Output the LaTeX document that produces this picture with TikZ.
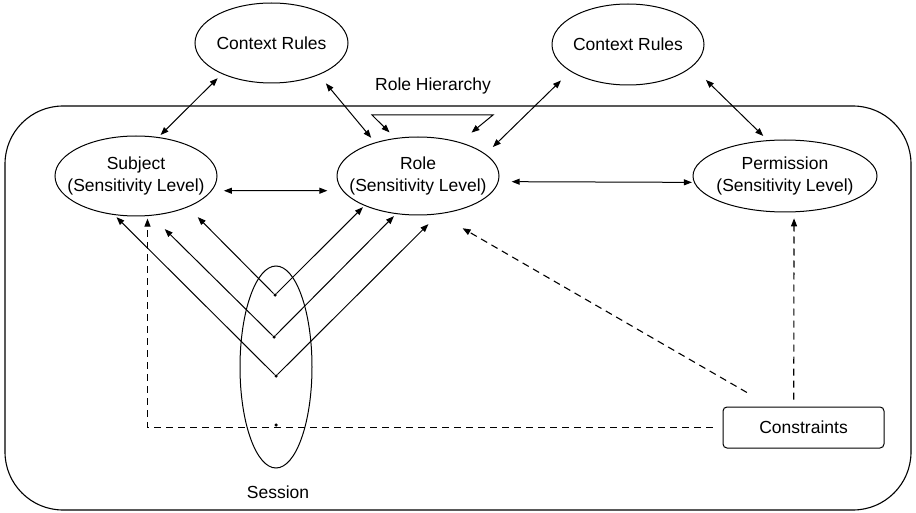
\documentclass[tikz,border=0pt]{standalone}
\usepackage{fontspec}
\setmainfont{Liberation Sans}
\usetikzlibrary{positioning,arrows.meta,shapes.geometric}

\begin{document}
\begin{tikzpicture}[
x=1pt, y=-1pt,
font=\fontsize{17.5}{22}\selectfont,
ell/.style={draw, ellipse, line width=1pt, align=center, inner xsep=-40pt, inner ysep=-12pt},
box/.style={draw, rounded corners=4pt, line width=1pt, minimum width=161pt, minimum height=41pt},
dot/.style={circle, fill, inner sep=0pt, minimum size=3.5pt},
arrow/.style={-{Triangle[length=8pt,width=6pt]}, line width=1pt},
biarrow/.style={{Triangle[length=8pt,width=6pt]}-{Triangle[length=8pt,width=6pt]}, line width=1pt},
dasharrow/.style={arrow, line width=1.1pt, dash pattern=on 7pt off 5pt}
]
\useasboundingbox (0,0) rectangle (916,513);
\node[draw, rounded corners=58pt, line width=1.1pt, minimum width=906pt, minimum height=404pt] (sys) at (458,308) {};
\node[ell, minimum width=153pt, minimum height=80pt] (crl) at (271.5,43) {Context Rules};
\node[ell, minimum width=152pt, minimum height=81pt] (crr) at (628,44.5) {Context Rules};
\node[ell, minimum width=162pt, minimum height=80pt] (subj) at (136,176) {Subject\\(Sensitivity Level)};
\node[ell, minimum width=162pt, minimum height=78pt] (role) at (418,176) {Role\\(Sensitivity Level)};
\node[ell, minimum width=184pt, minimum height=72pt] (perm) at (785,176) {Permission\\(Sensitivity Level)};
\node[ell, minimum width=72pt, minimum height=202pt] (sess) at (276,367) {};
\node[box] (cons) at (803.5,427.5) {Constraints};
\node (rh) at (433,86) {Role Hierarchy};
\node (sesslbl) at (278,492) {Session};
\node[dot] (d1) at (275,295) {};
\node[dot] (d2) at (274,337) {};
\node[dot] (d3) at (276,376) {};
\node[dot] (d4) at (276,425) {};
\coordinate (rhl) at (372,115);
\coordinate (rhr) at (493,115);
\draw[biarrow, shorten <=6pt, shorten >=3pt] (crl.-148) -- (subj.60);
\draw[biarrow, shorten <=11pt, shorten >=6pt] (crl.-34) -- (role.142);
\draw[biarrow, shorten <=13pt, shorten >=10pt] (crr.-155) -- (role.18);
\draw[biarrow, shorten <=19pt, shorten >=6pt] (crr.-19) -- (perm.116);
\draw[biarrow, shorten <=12pt, shorten >=15pt] (subj.-11) -- (role.-169);
\draw[biarrow, shorten <=13pt, shorten >=2pt] (role.-4) -- (perm.184);
\draw[biarrow, shorten <=8pt, shorten >=15pt] (role.121) -- (rhl) -- (rhr) -- (role.39);
\draw[arrow, shorten >=14pt] (d1) -- (subj.-31);
\draw[arrow, shorten >=19pt] (d2) -- (subj.-69);
\draw[arrow, shorten >=3pt] (d3) -- (subj.-119);
\draw[arrow, shorten >=2pt] (d1) -- (role.-151);
\draw[arrow, shorten >=3pt] (d2) -- (role.-120);
\draw[arrow, shorten >=14pt] (d3) -- (role.-62);
\draw[dasharrow, shorten <=10pt, shorten >=2.5pt] (cons.west) -| (subj.-74.5);
\draw[dasharrow, shorten <=28pt, shorten >=28pt] (cons.147) -- (role.-62.6);
\draw[dasharrow, shorten <=7pt, shorten >=6pt] (cons.115) -- (perm.-76);
\end{tikzpicture}
\end{document}
